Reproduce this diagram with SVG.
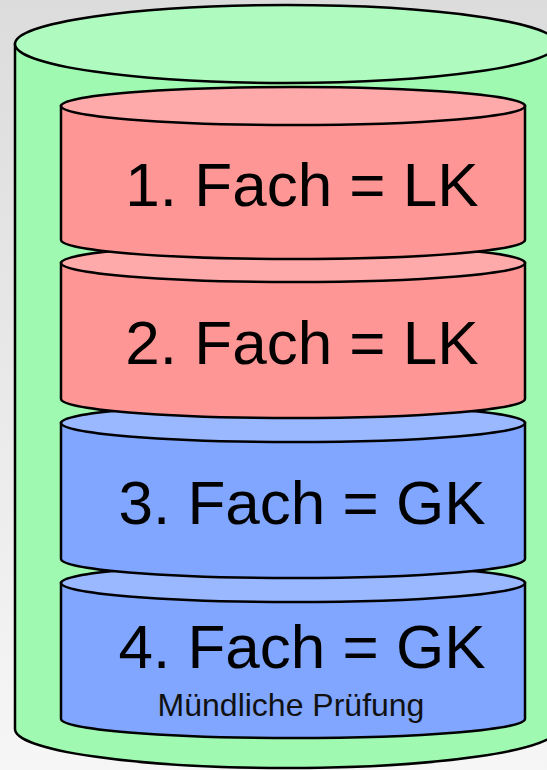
<svg xmlns="http://www.w3.org/2000/svg" width="547" height="770" viewBox="0 0 547 770">
  <defs>
    <linearGradient id="bg" x1="0" y1="0" x2="0" y2="1">
      <stop offset="0" stop-color="#dcdcdc"/>
      <stop offset="1" stop-color="#f6f6f6"/>
    </linearGradient>
  </defs>
  <style>
    .ln { stroke: #000; stroke-width: 2.5; }
    .gb { fill: #9ff9b1; }
    .gt { fill: #aefabf; }
    .rb { fill: #ff9696; }
    .rt { fill: #ffaaaa; }
    .bb { fill: #80a6ff; }
    .bt { fill: #99b8ff; }
    .big { font-family: "Liberation Sans", Arial, sans-serif; font-size: 62px; fill: #000; text-anchor: middle; }
    .small { font-family: "Liberation Sans", Arial, sans-serif; font-size: 32px; fill: #111; text-anchor: middle; }
  </style>
  <rect x="0" y="0" width="547" height="770" fill="url(#bg)"/>

  <g id="outer">
    <path class="gb ln" d="M15,44 L15,729 A271,39 0 0 0 557,729 L557,44 Z"/>
    <ellipse class="gt ln" cx="286" cy="44" rx="271" ry="39"/>
  </g>

  <g id="fach4">
    <path class="bb ln" d="M61,583 L61,719 A232,19 0 0 0 525,719 L525,583 Z"/>
    <ellipse class="bt ln" cx="293" cy="583" rx="232" ry="19"/>
    <text class="big" x="302" y="668">4. Fach = GK</text>
    <text class="small" x="291" y="716">Mündliche Prüfung</text>
  </g>

  <g id="fach3">
    <path class="bb ln" d="M61,423 L61,559 A232,19 0 0 0 525,559 L525,423 Z"/>
    <ellipse class="bt ln" cx="293" cy="423" rx="232" ry="19"/>
    <text class="big" x="302" y="524">3. Fach = GK</text>
  </g>

  <g id="fach2">
    <path class="rb ln" d="M61,263 L61,399 A232,19 0 0 0 525,399 L525,263 Z"/>
    <ellipse class="rt ln" cx="293" cy="263" rx="232" ry="19"/>
    <text class="big" x="302" y="364">2. Fach = LK</text>
  </g>

  <g id="fach1">
    <path class="rb ln" d="M61,106 L61,240 A232,19 0 0 0 525,240 L525,106 Z"/>
    <ellipse class="rt ln" cx="293" cy="106" rx="232" ry="19"/>
    <text class="big" x="302" y="206">1. Fach = LK</text>
  </g>

  <g id="connectors"/>
</svg>
